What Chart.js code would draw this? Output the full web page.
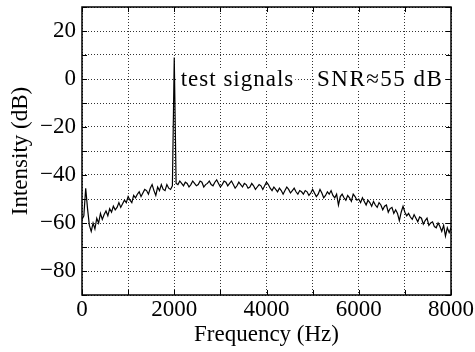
<!doctype html>
<html lang="en">
<head>
  <meta charset="utf-8">
  <title>Intensity spectrum</title>
  <style>
    html, body { margin: 0; padding: 0; background: #fff; }
    #wrap { width: 475px; height: 352px; }
  </style>
</head>
<body>
  <div id="wrap"><canvas id="chart_spectrum"></canvas></div>

  <script src="https://cdn.jsdelivr.net/npm/chart.js"></script>
  <script>
    // frequency samples (Hz), 40 Hz apart
    const freq_hz = [
      0, 40, 80, 120, 160, 200, 240, 280, 320, 360,
      400, 440, 480, 520, 560, 600, 640, 680, 720, 760,
      800, 840, 880, 920, 960, 1000, 1040, 1080, 1120, 1160,
      1200, 1240, 1280, 1320, 1360, 1400, 1440, 1480, 1520, 1560,
      1600, 1640, 1680, 1720, 1760, 1800, 1840, 1880, 1920, 1960,
      2000, 2040, 2080, 2120, 2160, 2200, 2240, 2280, 2320, 2360,
      2400, 2440, 2480, 2520, 2560, 2600, 2640, 2680, 2720, 2760,
      2800, 2840, 2880, 2920, 2960, 3000, 3040, 3080, 3120, 3160,
      3200, 3240, 3280, 3320, 3360, 3400, 3440, 3480, 3520, 3560,
      3600, 3640, 3680, 3720, 3760, 3800, 3840, 3880, 3920, 3960,
      4000, 4040, 4080, 4120, 4160, 4200, 4240, 4280, 4320, 4360,
      4400, 4440, 4480, 4520, 4560, 4600, 4640, 4680, 4720, 4760,
      4800, 4840, 4880, 4920, 4960, 5000, 5040, 5080, 5120, 5160,
      5200, 5240, 5280, 5320, 5360, 5400, 5440, 5480, 5520, 5560,
      5600, 5640, 5680, 5720, 5760, 5800, 5840, 5880, 5920, 5960,
      6000, 6040, 6080, 6120, 6160, 6200, 6240, 6280, 6320, 6360,
      6400, 6440, 6480, 6520, 6560, 6600, 6640, 6680, 6720, 6760,
      6800, 6840, 6880, 6920, 6960, 7000, 7040, 7080, 7120, 7160,
      7200, 7240, 7280, 7320, 7360, 7400, 7440, 7480, 7520, 7560,
      7600, 7640, 7680, 7720, 7760, 7800, 7840, 7880, 7920, 7960,
      8000
    ];

    // intensity (dB)
    const intensity_db = [
      -58.5, -57, -45.5, -54, -61, -63.5, -60, -62.5, -58, -60,
      -56, -58.5, -56.5, -55, -57, -54, -55.5, -53, -54.5, -53.5,
      -51.5, -53.5, -52, -50.5, -51.5, -49, -50.5, -51.5, -48.5, -49.5,
      -48, -47, -49, -47.5, -46, -46.5, -48, -45.5, -44, -46.5,
      -48.5, -45, -46.5, -44, -46, -46.5, -44, -45.5, -46, -44.5,
      9, -43.5, -44, -42.5, -43.5, -44.5, -43, -43.5, -45, -44,
      -42.5, -43.5, -44.5, -44, -42.5, -43, -45, -44, -43.5, -42.5,
      -44, -44.5, -43, -42, -43.5, -45, -44, -42.5, -43, -44.5,
      -43.5, -42.5, -44, -45.5, -44.5, -43, -44, -45, -43.5, -44,
      -45.5, -45, -43.5, -44.5, -46, -45, -44, -44.5, -46, -44.5,
      -43, -44, -45.5, -46.5, -45, -46, -47, -45.5, -46.5, -48,
      -46.5, -45, -46, -47.5, -46.5, -45.5, -47, -48, -46.5, -47,
      -48, -46.5, -47, -48.5, -47.5, -46, -47.5, -49, -48, -46,
      -47.5, -49.5, -48.5, -47, -48, -46.5, -48.5, -49.5, -48, -52.5,
      -49, -48, -49.5, -50.5, -48.5, -49.5, -51, -48, -49, -50.5,
      -50, -51.5, -49.5, -51, -52.5, -50.5, -51.5, -53, -51, -52.5,
      -53.5, -51.5, -52.5, -54.5, -53, -52.5, -55.5, -54, -53.5, -56,
      -54.5, -56, -59, -55.5, -53, -55.5, -57, -56, -57.5, -58.5,
      -56.5, -58, -59.5, -57.5, -58, -60.5, -59, -58, -61, -60,
      -59.5, -61.5, -62, -60, -61.5, -63.5, -61, -65.5, -62, -64,
      -62
    ];

    const x_label_values = [0, 2000, 4000, 6000, 8000];
    const y_label_values = [-80, -60, -40, -20, 0, 20];

    const annotation_left = 'test signals';
    const annotation_right = 'SNR\u224855 dB';

    const serif = '"Liberation Serif", "Times New Roman", serif';

    function minusSign(v) {
      return v < 0 ? '\u2212' + Math.abs(v) : String(v);
    }

    // box round the plot, with short inward ticks on all four sides
    const framePlugin = {
      id: 'frame',
      afterDraw(chart) {
        const ctx = chart.ctx;
        const a = chart.chartArea;
        const xs = chart.scales.x;
        const ys = chart.scales.y;
        ctx.save();
        ctx.strokeStyle = '#000';
        ctx.lineWidth = 1;
        ctx.beginPath();
        xs.ticks.forEach(t => {
          const px = Math.round(xs.getPixelForValue(t.value)) + 0.5;
          ctx.moveTo(px, a.bottom); ctx.lineTo(px, a.bottom - 5);
          ctx.moveTo(px, a.top); ctx.lineTo(px, a.top + 5);
        });
        ys.ticks.forEach(t => {
          const py = Math.round(ys.getPixelForValue(t.value)) + 0.5;
          ctx.moveTo(a.left, py); ctx.lineTo(a.left + 5, py);
          ctx.moveTo(a.right, py); ctx.lineTo(a.right - 5, py);
        });
        ctx.stroke();
        ctx.lineWidth = 1.5;
        ctx.strokeRect(a.left, a.top, a.right - a.left, a.bottom - a.top);
        ctx.restore();
      }
    };

    // the two text labels on the 0 dB line
    const labelPlugin = {
      id: 'labels',
      afterDatasetsDraw(chart) {
        const ctx = chart.ctx;
        const xs = chart.scales.x;
        const ys = chart.scales.y;
        const py = ys.getPixelForValue(0);
        const items = [
          { text: annotation_left, at: 2140, spacing: 1 },
          { text: annotation_right, at: 5095, spacing: 1.5 }
        ];
        ctx.save();
        ctx.font = '23px ' + serif;
        ctx.textBaseline = 'middle';
        ctx.textAlign = 'left';
        items.forEach(it => {
          ctx.letterSpacing = it.spacing + 'px';
          const px = xs.getPixelForValue(it.at);
          const w = ctx.measureText(it.text).width - it.spacing;
          ctx.fillStyle = '#fff';
          ctx.fillRect(px - 3, py - 10, w + 5, 20);
          ctx.fillStyle = '#000';
          ctx.fillText(it.text, px, py + 1);
        });
        ctx.restore();
      }
    };

    const spectrum_data = {
      labels: freq_hz,
      datasets: [{
        data: freq_hz.map((f, i) => ({ x: f, y: intensity_db[i] })),
        borderColor: '#000',
        borderWidth: 1.2,
        pointRadius: 0,
        tension: 0,
        fill: false
      }]
    };

    const gridStyle = {
      color: 'rgba(0, 0, 0, 0.8)',
      lineWidth: 1,
      drawTicks: false
    };

    const config_spectrum = {
      type: 'line',
      data: spectrum_data,
      options: {
        responsive: true,
        maintainAspectRatio: false,
        animation: false,
        layout: { padding: { top: 7, right: 24, left: 0, bottom: 0 } },
        plugins: {
          legend: { display: false },
          tooltip: { enabled: false }
        },
        scales: {
          x: {
            type: 'linear',
            min: 0,
            max: 8000,
            grid: gridStyle,
            border: { display: false, dash: [1, 2] },
            ticks: {
              stepSize: 1000,
              autoSkip: false,
              maxRotation: 0,
              padding: 1,
              color: '#000',
              font: { family: serif, size: 23 },
              callback: v => x_label_values.includes(v) ? String(v) : ''
            },
            title: {
              display: true,
              text: 'Frequency (Hz)',
              color: '#000',
              font: { family: serif, size: 23 },
              padding: { top: 0, bottom: 3 }
            },
            afterFit: scale => {
              scale.height = 57;
              scale.paddingLeft = 0;
              scale.paddingRight = 0;
            }
          },
          y: {
            min: -90,
            max: 30,
            grid: gridStyle,
            border: { display: false, dash: [1, 2] },
            ticks: {
              stepSize: 10,
              autoSkip: false,
              padding: 6,
              color: '#000',
              font: { family: serif, size: 23 },
              callback: v => y_label_values.includes(v) ? minusSign(v) : ''
            },
            title: {
              display: true,
              text: 'Intensity (dB)',
              color: '#000',
              font: { family: serif, size: 23 },
              padding: { top: 7, bottom: 0 }
            },
            afterFit: scale => {
              scale.width = 82;
              scale.paddingTop = 0;
              scale.paddingBottom = 0;
            }
          }
        }
      },
      plugins: [labelPlugin, framePlugin]
    };

    const chart_spectrum = new Chart(
      document.getElementById('chart_spectrum'),
      config_spectrum
    );
  </script>
</body>
</html>
